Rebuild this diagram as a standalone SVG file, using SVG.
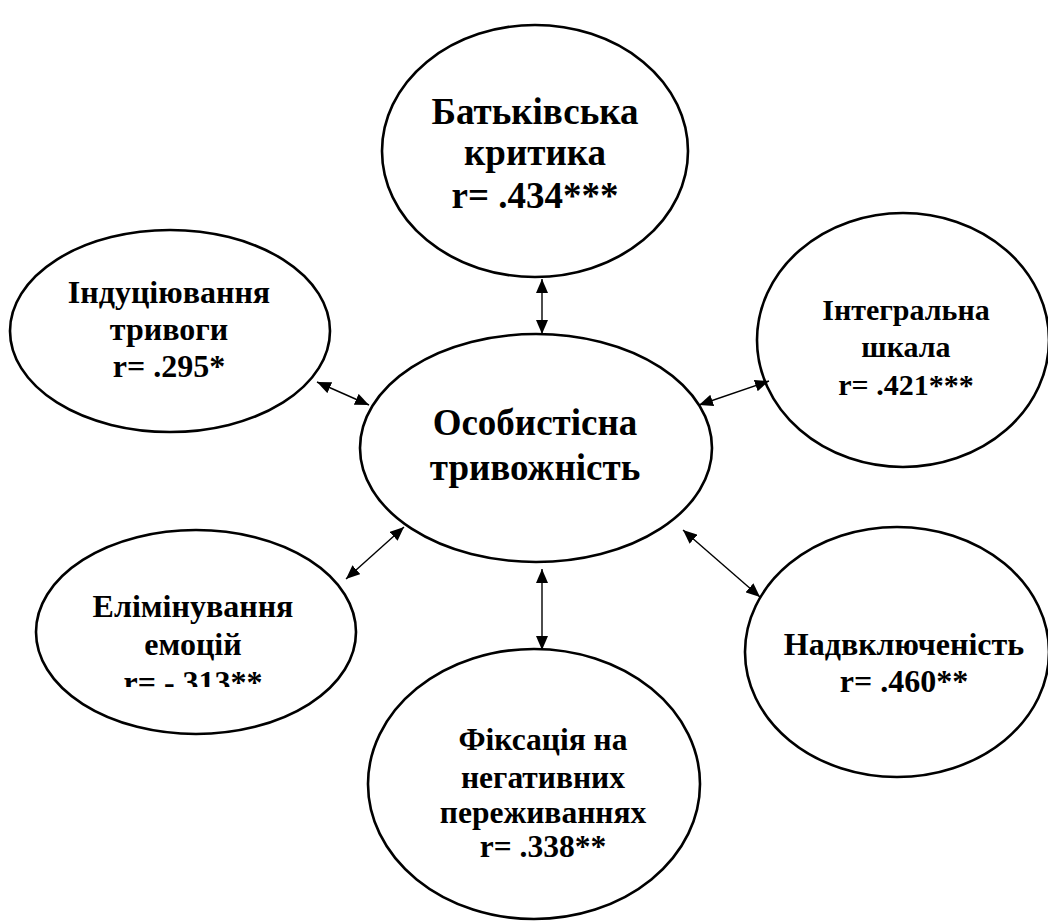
<svg xmlns="http://www.w3.org/2000/svg" width="1048" height="922" viewBox="0 0 1048 922">
<style>
.node ellipse{fill:#fff;stroke:#000;stroke-width:2.6}
.t{font-family:"Liberation Serif","Times New Roman",serif;font-weight:bold;fill:#000;text-anchor:middle}
.conn line{stroke:#000;stroke-width:1.4;marker-start:url(#ah);marker-end:url(#ah)}
</style>
<defs>
<marker id="ah" viewBox="0 0 14 12" refX="14" refY="6" markerWidth="14" markerHeight="12" markerUnits="userSpaceOnUse" orient="auto-start-reverse">
<path d="M0,0 L14,6 L0,12 z" fill="#000"/>
</marker>
<clipPath id="clipE"><rect x="0" y="0" width="1048" height="687"/></clipPath>
</defs>
<g id="n-top" class="node">
<ellipse cx="535" cy="151" rx="153" ry="126"/>
<text class="t" font-size="37" x="535" y="124">Батьківська</text>
<text class="t" font-size="37" x="535" y="165">критика</text>
<text class="t" font-size="37" x="535" y="208">r= .434***</text>
</g>
<g id="n-lefttop" class="node">
<ellipse cx="170" cy="331" rx="160" ry="101"/>
<text class="t" font-size="32" x="169" y="303">Індуціювання</text>
<text class="t" font-size="32" x="169" y="340">тривоги</text>
<text class="t" font-size="32" x="169" y="377">r= .295*</text>
</g>
<g id="n-righttop" class="node">
<ellipse cx="903" cy="340" rx="146" ry="127"/>
<text class="t" font-size="30" x="906" y="320">Інтегральна</text>
<text class="t" font-size="30" x="906" y="357">шкала</text>
<text class="t" font-size="30" x="906" y="395">r= .421***</text>
</g>
<g id="n-center" class="node">
<ellipse cx="536" cy="448" rx="176" ry="114"/>
<text class="t" font-size="37" x="535" y="435">Особистісна</text>
<text class="t" font-size="37" x="535" y="480">тривожність</text>
</g>
<g id="n-leftbottom" class="node">
<ellipse cx="196" cy="632" rx="160" ry="102"/>
<text class="t" font-size="32" x="193" y="617">Елімінування</text>
<text class="t" font-size="32" x="193" y="655">емоцій</text>
<text class="t" font-size="32" x="193" y="693" clip-path="url(#clipE)">r= -.313**</text>
</g>
<g id="n-rightbottom" class="node">
<ellipse cx="897" cy="652" rx="152" ry="125"/>
<text class="t" font-size="32" x="904" y="655">Надвключеність</text>
<text class="t" font-size="32" x="904" y="692">r= .460**</text>
</g>
<g id="n-bottom" class="node">
<ellipse cx="534" cy="784" rx="166" ry="135"/>
<text class="t" font-size="31.5" x="543" y="750">Фіксація на</text>
<text class="t" font-size="31.5" x="543" y="788">негативних</text>
<text class="t" font-size="31.5" x="543" y="823">переживаннях</text>
<text class="t" font-size="31.5" x="543" y="857">r= .338**</text>
</g>
<g id="connectors" class="conn">
<line x1="542" y1="279" x2="542" y2="334"/>
<line x1="317" y1="382" x2="369" y2="405"/>
<line x1="699" y1="405" x2="769" y2="381"/>
<line x1="346" y1="579" x2="404" y2="527"/>
<line x1="683" y1="530" x2="760" y2="597"/>
<line x1="542" y1="569" x2="542" y2="650"/>
</g>
</svg>
